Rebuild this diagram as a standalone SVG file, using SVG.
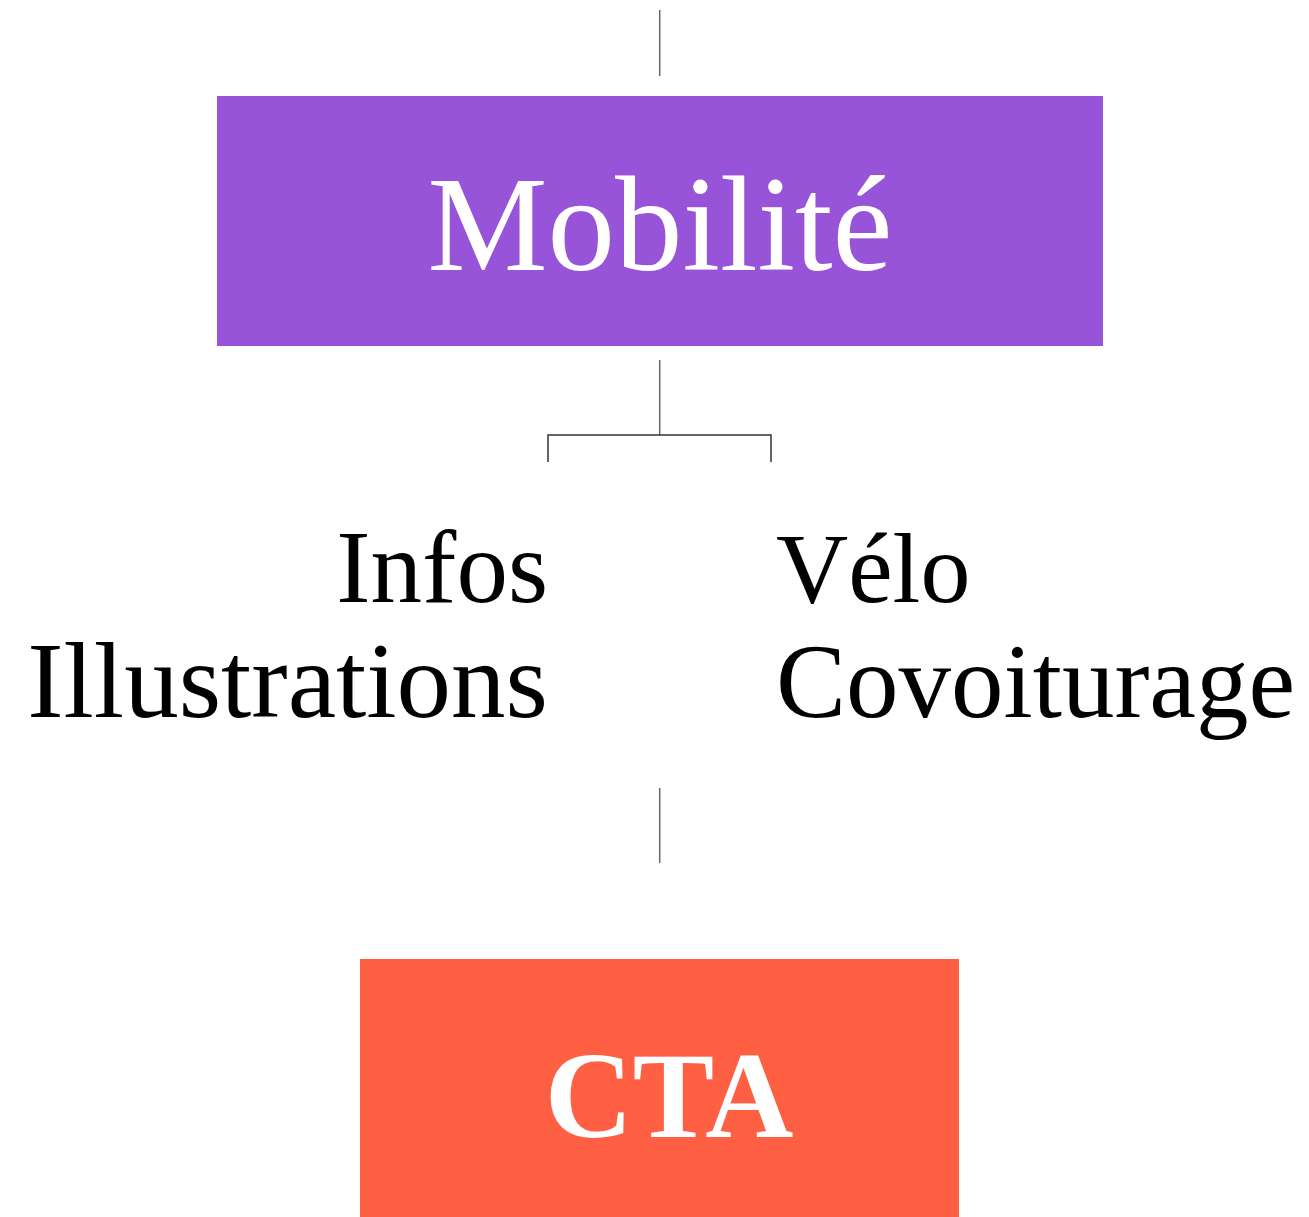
<svg xmlns="http://www.w3.org/2000/svg" width="1309" height="1217" viewBox="0 0 1309 1217">
<style>
.t{font-family:"Liberation Serif","DejaVu Serif",serif;}
.w{fill:#ffffff;}
.k{fill:#000000;}
.ln{stroke:#666666;stroke-width:1.5;fill:none;}
.br{stroke:#333333;stroke-width:1.5;fill:none;}
</style>
<rect width="1309" height="1217" fill="#ffffff"/>
<g id="connectors">
<line class="ln" x1="659.7" y1="10" x2="659.7" y2="76"/>
<line class="ln" x1="659.7" y1="360" x2="659.7" y2="435"/>
<polyline class="br" points="548,462 548,435 771,435 771,462"/>
<line class="ln" x1="659.7" y1="788" x2="659.7" y2="863"/>
</g>
<g id="mobilite">
<rect x="217" y="96" width="886" height="250" fill="#9854d9"/>
<text class="t w" x="660" y="270" font-size="135" text-anchor="middle">Mobilité</text>
</g>
<g id="left">
<text class="t k" x="548" y="602" font-size="103" text-anchor="end">Infos</text>
<text class="t k" x="548" y="717" font-size="109" text-anchor="end">Illustrations</text>
</g>
<g id="right">
<text class="t k" x="776" y="602" font-size="100">Vélo</text>
<text class="t k" x="776" y="717" font-size="105">Covoiturage</text>
</g>
<g id="cta">
<rect x="360" y="959" width="599" height="258" fill="#ff6043"/>
<text class="t w" x="669" y="1137" font-size="122" font-weight="bold" text-anchor="middle">CTA</text>
</g>
</svg>
